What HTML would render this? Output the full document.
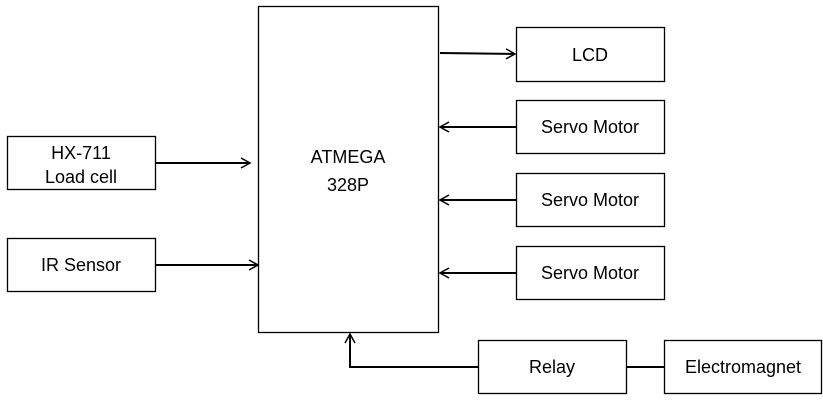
<!DOCTYPE html>
<html><head><style>
body{margin:0;background:#fff;width:823px;height:400px;overflow:hidden}
</style></head><body>
<svg width="823" height="400" xmlns="http://www.w3.org/2000/svg" font-family="Liberation Sans, sans-serif" font-size="18" fill="none">
<defs><marker id="a" markerWidth="12" markerHeight="12" refX="10" refY="6" orient="auto" markerUnits="userSpaceOnUse"><path d="M1,1 L10,6 L1,11" stroke="#000" stroke-width="1.5" fill="none"/></marker></defs>
<g stroke="#000" stroke-width="1.3">
<rect x="258.5" y="6.5" width="180" height="326"/>
<rect x="516.5" y="27.5" width="148" height="54"/>
<rect x="516.5" y="100.5" width="148" height="53"/>
<rect x="516.5" y="173.5" width="148" height="53"/>
<rect x="516.5" y="246.5" width="148" height="53"/>
<rect x="7.5" y="136.5" width="148" height="53"/>
<rect x="7.5" y="238.5" width="148" height="53"/>
<rect x="478.5" y="340.5" width="148" height="53"/>
<rect x="664.5" y="340.5" width="157" height="53"/>
</g>
<g stroke="#000" stroke-width="2">
<line x1="440" y1="53" x2="515" y2="54" marker-end="url(#a)"/>
<line x1="516" y1="127" x2="440" y2="127" marker-end="url(#a)"/>
<line x1="516" y1="200" x2="440" y2="200" marker-end="url(#a)"/>
<line x1="516" y1="273" x2="440" y2="273" marker-end="url(#a)"/>
<line x1="156" y1="163" x2="250" y2="163" marker-end="url(#a)"/>
<line x1="156" y1="265" x2="258" y2="265" marker-end="url(#a)"/>
<polyline points="478,367 350,367 350,334" marker-end="url(#a)"/>
<line x1="627" y1="367" x2="664" y2="367"/>
</g>
<g fill="#000" text-anchor="middle">
<text x="348" y="163">ATMEGA</text>
<text x="348" y="191">328P</text>
<text x="590" y="61">LCD</text>
<text x="590" y="133">Servo Motor</text>
<text x="590" y="206">Servo Motor</text>
<text x="590" y="279">Servo Motor</text>
<text x="81" y="159">HX-711</text>
<text x="81" y="183">Load cell</text>
<text x="81" y="271">IR Sensor</text>
<text x="552" y="373">Relay</text>
<text x="743" y="373">Electromagnet</text>
</g>
</svg>
</body></html>
